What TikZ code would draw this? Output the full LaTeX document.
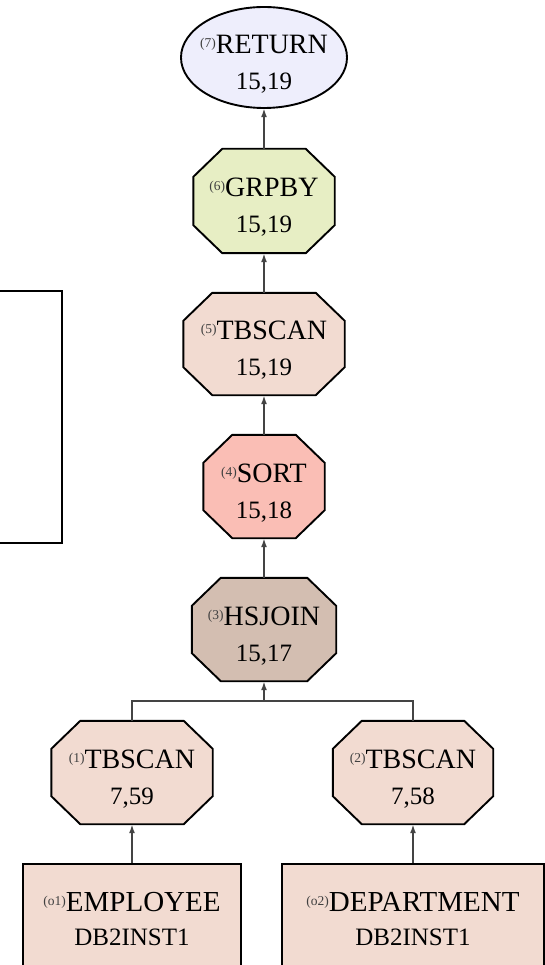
\documentclass[tikz,border=0pt]{standalone}
\usepackage{fontspec}
\setmainfont{Liberation Serif}
\usetikzlibrary{arrows.meta,calc}

\pgfdeclarelayer{bg}
\pgfsetlayers{bg,main}

\definecolor{retfill}{RGB}{238,238,252}
\definecolor{grpfill}{RGB}{231,238,196}
\definecolor{scanfill}{RGB}{242,219,209}
\definecolor{sortfill}{RGB}{250,190,181}
\definecolor{joinfill}{RGB}{211,190,177}
\definecolor{edgegray}{RGB}{68,68,68}

% small operator number in front of an operator name
\newcommand\opnum[1]{\raisebox{6pt}{\fontsize{13.5}{13.5}\selectfont\color{black!75}(#1)}}
% invisible strut that lowers the two text lines a little inside an operator
\newcommand\lowerstrut{\rule{0pt}{31pt}}
% second text line (cost / schema)
\newcommand\subline[1]{{\fontsize{25}{36}\selectfont #1}}

% octagon drawn round a rectangular node: #1 node, #2 fill
\newcommand\octagonround[2]{%
  \path[draw=black, line width=1.9pt, fill=#2, line join=miter]
    ($(#1.north west)+(29,0)$) -- ($(#1.north east)+(-29,0)$)
    -- ($(#1.north east)+(0,28)$) -- ($(#1.south east)+(0,-28)$)
    -- ($(#1.south east)+(-29,0)$) -- ($(#1.south west)+(29,0)$)
    -- ($(#1.south west)+(0,-28)$) -- ($(#1.north west)+(0,28)$) -- cycle;}

\tikzset{
  opbox/.style={rectangle, inner sep=0pt, align=center,
    font=\fontsize{28}{36}\selectfont},
  tablebox/.style={rectangle, draw=black, line width=1.9pt, fill=scanfill,
    inner sep=0pt, align=center, font=\fontsize{29}{34}\selectfont},
  flow/.style={draw=edgegray, line width=1.7pt, -{Latex[length=9pt,width=6pt]}},
  link/.style={draw=edgegray, line width=1.7pt},
}

\begin{document}
\begin{tikzpicture}[x=1pt, y=-1pt]
\useasboundingbox (0,0) rectangle (544,965);

% operator nodes
\node[opbox, minimum width=166pt, minimum height=101pt] (ret) at (264,57.5)
  {\lowerstrut\opnum{7}RETURN\\\subline{15,19}};
\node[opbox, minimum width=141pt, minimum height=104pt] (grp) at (264,201)
  {\lowerstrut\opnum{6}GRPBY\\\subline{15,19}};
\node[opbox, minimum width=161pt, minimum height=102pt] (tb5) at (264,344)
  {\lowerstrut\opnum{5}TBSCAN\\\subline{15,19}};
\node[opbox, minimum width=121pt, minimum height=103pt] (sort) at (264,486.5)
  {\lowerstrut\opnum{4}SORT\\\subline{15,18}};
\node[opbox, minimum width=144pt, minimum height=103pt] (hsj) at (264,629.5)
  {\lowerstrut\opnum{3}HSJOIN\\\subline{15,17}};
\node[opbox, minimum width=161pt, minimum height=103pt] (tb1) at (132,772.5)
  {\lowerstrut\opnum{1}TBSCAN\\\subline{7,59}};
\node[opbox, minimum width=160pt, minimum height=103pt] (tb2) at (413,772.5)
  {\lowerstrut\opnum{2}TBSCAN\\\subline{7,58}};

% base tables
\node[tablebox, minimum width=218pt, minimum height=111pt] (emp) at (132,919.5)
  {\opnum{o1}EMPLOYEE\\\subline{DB2INST1}};
\node[tablebox, minimum width=262pt, minimum height=111pt] (dept) at (413,919.5)
  {\opnum{o2}DEPARTMENT\\\subline{DB2INST1}};

% empty panel on the left
\node[draw=black, line width=1.9pt, fill=white, inner sep=0pt,
  minimum width=90pt, minimum height=252pt] (panel) at (17,417) {};

% operator outlines behind the text
\begin{pgfonlayer}{bg}
  \path[draw=black, line width=1.9pt, fill=retfill]
    (ret.center) ellipse [x radius=83, y radius=50.5];
  \octagonround{grp}{grpfill}
  \octagonround{tb5}{scanfill}
  \octagonround{sort}{sortfill}
  \octagonround{hsj}{joinfill}
  \octagonround{tb1}{scanfill}
  \octagonround{tb2}{scanfill}
\end{pgfonlayer}

% data flow, bottom to top
\coordinate (jn) at (264,701);
\draw[link] (tb1.north) |- (jn) -| (tb2.north);
\draw[flow] (jn) -- (hsj.south);
\draw[flow] (emp.north) -- (tb1.south);
\draw[flow] (dept.north) -- (tb2.south);
\draw[flow] (hsj.north) -- (sort.south);
\draw[flow] (sort.north) -- (tb5.south);
\draw[flow] (tb5.north) -- (grp.south);
\draw[flow] (grp.north) -- (ret.south);
\end{tikzpicture}
\end{document}
